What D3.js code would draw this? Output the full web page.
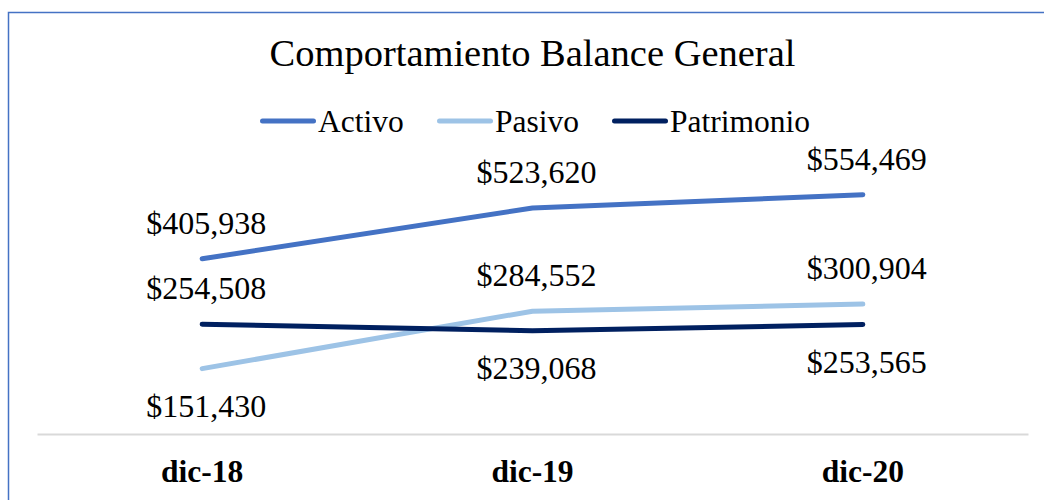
<!DOCTYPE html>
<html>
<head>
<meta charset="utf-8">
<script src="https://cdn.jsdelivr.net/npm/d3@7"></script>
<style>
  html, body { margin: 0; padding: 0; background: #fff; }
  svg { display: block; }
  text { font-family: "Liberation Serif", "Times New Roman", serif; fill: #000; }
</style>
</head>
<body>
<svg id="chart" width="1044" height="500"></svg>
<script>
const categories = ["dic-18", "dic-19", "dic-20"];
const activo = [405938, 523620, 554469];
const pasivo = [151430, 284552, 300904];
const patrimonio = [254508, 239068, 253565];
const seriesNames = ["Activo", "Pasivo", "Patrimonio"];
const seriesColors = ["#4472C4", "#9DC3E6", "#002060"];
// label placement relative to the point
const activoLabelPos = ["above", "above", "above"];
const pasivoLabelPos = ["below", "above", "above"];
const patrimonioLabelPos = ["above", "below", "below"];
const yDomain = [0, 600000];

const series = [
  { name: seriesNames[0], values: activo, color: seriesColors[0], pos: activoLabelPos },
  { name: seriesNames[1], values: pasivo, color: seriesColors[1], pos: pasivoLabelPos },
  { name: seriesNames[2], values: patrimonio, color: seriesColors[2], pos: patrimonioLabelPos }
];

const svg = d3.select("#chart");

// outer chart border (only top/left visible in the crop)
svg.append("rect")
  .attr("x", 8.5).attr("y", 12.5)
  .attr("width", 1100).attr("height", 600)
  .attr("fill", "none")
  .attr("stroke", "#4472C4")
  .attr("stroke-width", 1.5);

const plot = { left: 37, right: 1028, top: 175, bottom: 434 };

const x = d3.scaleBand().domain(categories).range([plot.left, plot.right]).padding(0);
const y = d3.scaleLinear().domain(yDomain).range([plot.bottom, plot.top]);
const cx = d => x(d) + x.bandwidth() / 2;

// title
svg.append("text")
  .attr("x", (plot.left + plot.right) / 2)
  .attr("y", 66)
  .attr("text-anchor", "middle")
  .style("font-size", "38.5px")
  .text("Comportamiento Balance General");

// legend
const legendItems = [
  { lineX: 260, textX: 318 },
  { lineX: 437, textX: 495 },
  { lineX: 612, textX: 670 }
];
const legend = svg.append("g");
series.forEach((s, i) => {
  const L = legendItems[i];
  legend.append("line")
    .attr("x1", L.lineX + 2.5).attr("x2", L.lineX + 53.5)
    .attr("y1", 121).attr("y2", 121)
    .attr("stroke", s.color).attr("stroke-width", 5)
    .attr("stroke-linecap", "round");
  legend.append("text")
    .attr("x", L.textX).attr("y", 132)
    .style("font-size", "31.5px")
    .text(s.name);
});

// x axis
const xAxis = d3.axisBottom(x).tickSize(0).tickPadding(0);
const gx = svg.append("g").attr("transform", `translate(0,${plot.bottom})`).call(xAxis);
gx.select(".domain").attr("stroke", "#D9D9D9").attr("stroke-width", 2);
gx.selectAll(".tick text")
  .attr("y", 48)
  .attr("dy", null)
  .style("font-family", "'Liberation Serif', 'Times New Roman', serif")
  .style("font-size", "31.5px")
  .style("font-weight", "bold")
  .attr("fill", "#000");

// lines
const line = d3.line().x((d, i) => cx(categories[i])).y(d => y(d));
series.forEach(s => {
  svg.append("path")
    .datum(s.values)
    .attr("d", line)
    .attr("fill", "none")
    .attr("stroke", s.color)
    .attr("stroke-width", 5)
    .attr("stroke-linecap", "round")
    .attr("stroke-linejoin", "round");
});

// data labels
const fmt = d3.format(",.0f");
series.forEach(s => {
  s.values.forEach((v, i) => {
    const py = y(v);
    svg.append("text")
      .attr("x", cx(categories[i]) + 4)
      .attr("y", s.pos[i] === "above" ? py - 25 : py + 48)
      .attr("text-anchor", "middle")
      .style("font-size", "32px")
      .text("$" + fmt(v));
  });
});
</script>
</body>
</html>
